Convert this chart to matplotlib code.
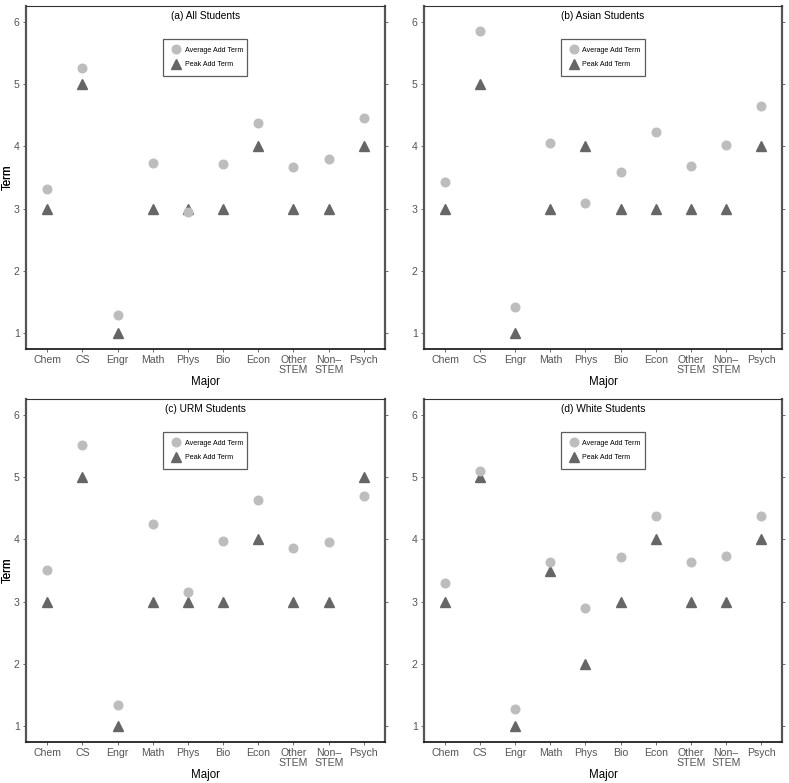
import numpy as np
import matplotlib.pyplot as plt

plt.rcParams['font.family'] = ['Liberation Sans', 'DejaVu Sans']

majors = ['Chem', 'CS', 'Engr', 'Math', 'Phys', 'Bio', 'Econ',
          'Other\nSTEM', 'Non\u2013\nSTEM', 'Psych']

titles = ['(a) All Students', '(b) Asian Students',
          '(c) URM Students', '(d) White Students']

avg_all = [3.32, 5.26, 1.30, 3.73, 2.94, 3.72, 4.37, 3.67, 3.79, 4.45]
peak_all = [3, 5, 1, 3, 3, 3, 4, 3, 3, 4]

avg_asian = [3.43, 5.85, 1.42, 4.06, 3.09, 3.59, 4.23, 3.68, 4.02, 4.65]
peak_asian = [3, 5, 1, 3, 4, 3, 3, 3, 3, 4]

avg_urm = [3.51, 5.52, 1.35, 4.24, 3.16, 3.97, 4.63, 3.86, 3.95, 4.70]
peak_urm = [3, 5, 1, 3, 3, 3, 4, 3, 3, 5]

avg_white = [3.30, 5.10, 1.28, 3.63, 2.90, 3.72, 4.38, 3.64, 3.74, 4.37]
peak_white = [3, 5, 1, 3.5, 2, 3, 4, 3, 3, 4]

avgs = [avg_all, avg_asian, avg_urm, avg_white]
peaks = [peak_all, peak_asian, peak_urm, peak_white]

W, H = 789, 783
fig = plt.figure(figsize=(W / 100, H / 100), dpi=100)

# axes boxes in pixels: left, top, right, bottom
boxes = [(26, 6, 385, 349), (424, 6, 782, 349),
         (26, 399, 385, 742), (424, 399, 782, 742)]

x = np.arange(len(majors))
for box, title, avg, peak in zip(boxes, titles, avgs, peaks):
    l, t, r, b = box
    ax = fig.add_axes([l / W, 1 - b / H, (r - l) / W, (b - t) / H])
    ax.plot(x, peak, ls='none', marker='^', ms=7.5, color='#666666',
            mec='#666666', zorder=3, label='Peak Add Term')
    ax.plot(x, avg, ls='none', marker='o', ms=6.2, color='#bdbdbd',
            mec='#bdbdbd', zorder=4, label='Average Add Term')
    ax.set_xlim(-0.6, 9.6)
    ax.set_ylim(0.75, 6.25)
    ax.set_xticks(x)
    ax.set_xticklabels(majors, linespacing=0.95)
    ax.set_yticks(np.arange(1, 7))
    ax.tick_params(axis='both', colors='#555555', labelcolor='#555555',
                   length=2.5, width=0.6, pad=2, labelsize=7.6)
    ax.tick_params(axis='y', right=True, labelright=False)
    ax.set_xlabel('Major', fontsize=8.3, labelpad=1)
    ax.set_ylabel('Term', fontsize=8.3)
    ax.yaxis.set_label_coords((14 - l) / (r - l), 0.5)
    ax.text(0.5, 0.972, title, transform=ax.transAxes, ha='center',
            va='center', fontsize=7.3)
    for side, lw, c in [('left', 1.6, '#555555'), ('right', 1.6, '#555555'),
                        ('top', 0.8, '#333333'), ('bottom', 1.3, '#222222')]:
        ax.spines[side].set_linewidth(lw)
        ax.spines[side].set_color(c)
    handles, labels = ax.get_legend_handles_labels()
    leg = ax.legend(handles[::-1], labels[::-1], loc='center left',
                    bbox_to_anchor=(0.382, 0.793, 0.234, 0.114),
                    mode='expand', fontsize=5.1, frameon=True, fancybox=False,
                    edgecolor='#333333', borderpad=1.15, handletextpad=0.5,
                    labelspacing=1.05, handlelength=1.4, borderaxespad=0)
    leg.get_frame().set_linewidth(0.9)

fig.savefig('out.png', dpi=100)
